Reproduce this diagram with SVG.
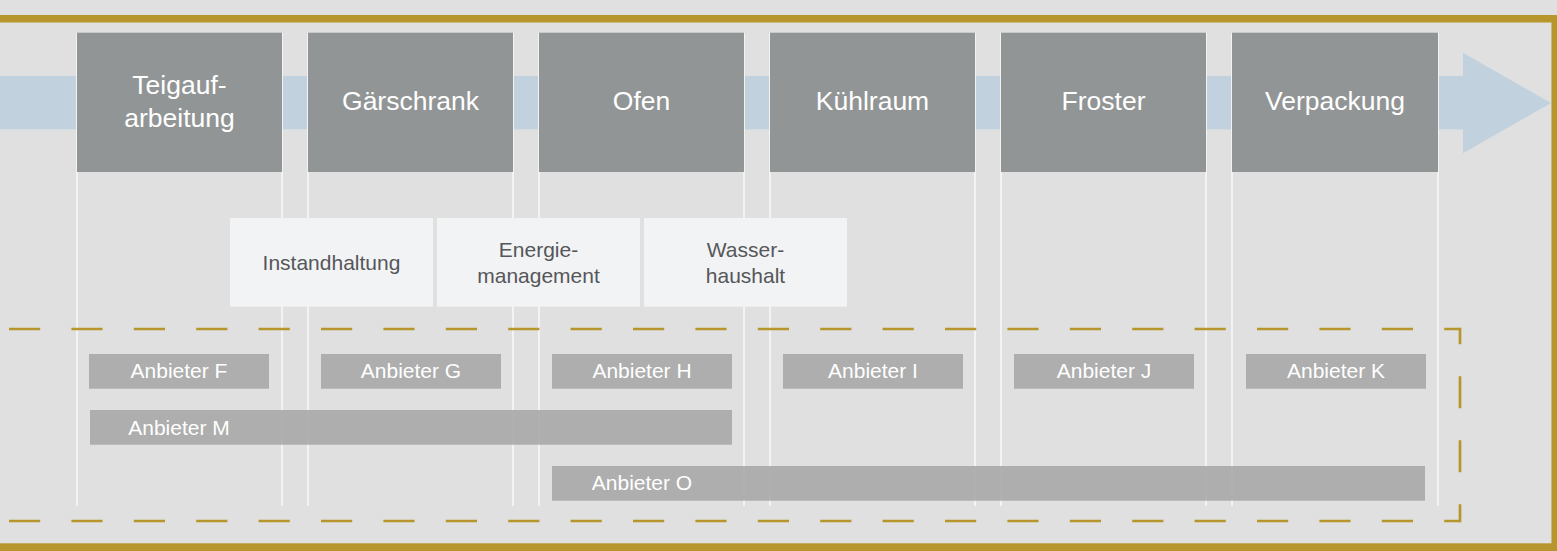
<svg xmlns="http://www.w3.org/2000/svg" width="1557" height="551" viewBox="0 0 1557 551">
  <style>
    .stage rect { fill: #929595; }
    .stage text { fill: #ffffff; font-family: "Liberation Sans", Arial, sans-serif; font-size: 26.5px; text-anchor: middle; }
    .topic rect { fill: #f2f3f5; }
    .topic text { fill: #555759; font-family: "Liberation Sans", Arial, sans-serif; font-size: 21px; text-anchor: middle; }
    .vendor rect { fill: #a5a6a5; fill-opacity: 0.88; }
    .vendor text { fill: #ffffff; font-family: "Liberation Sans", Arial, sans-serif; font-size: 21px; text-anchor: middle; }
    .guide { stroke: #f3f3f3; stroke-width: 2; }
    .dash { fill: none; stroke: #b8962e; stroke-width: 2.7; stroke-dasharray: 31.2 31.2; }
  </style>

  <!-- background and frame -->
  <rect x="0" y="0" width="1557" height="551" fill="#e0e0e0"/>
  <path d="M -10 18.7 H 1555.2 V 547" fill="none" stroke="#b8962e" stroke-width="7.5"/>
  <rect x="-10" y="543.3" width="1570" height="10" fill="#b8962e"/>

  <!-- process flow arrow -->
  <g id="flow-arrow">
    <rect x="0" y="76" width="1464" height="53.3" fill="#c1d2de"/>
    <polygon points="1463,52.7 1551,103 1463,153.3" fill="#c1d2de"/>
  </g>

  <!-- column guide lines -->
  <g id="guides">
    <line class="guide" x1="77" y1="33" x2="77" y2="506"/>
    <line class="guide" x1="282" y1="33" x2="282" y2="506"/>
    <line class="guide" x1="308" y1="33" x2="308" y2="506"/>
    <line class="guide" x1="513" y1="33" x2="513" y2="506"/>
    <line class="guide" x1="539" y1="33" x2="539" y2="506"/>
    <line class="guide" x1="744" y1="33" x2="744" y2="506"/>
    <line class="guide" x1="770" y1="33" x2="770" y2="506"/>
    <line class="guide" x1="975" y1="33" x2="975" y2="506"/>
    <line class="guide" x1="1001" y1="33" x2="1001" y2="506"/>
    <line class="guide" x1="1206" y1="33" x2="1206" y2="506"/>
    <line class="guide" x1="1232" y1="33" x2="1232" y2="506"/>
    <line class="guide" x1="1438" y1="33" x2="1438" y2="506"/>
  </g>

  <!-- process stages -->
  <g id="stage-teigaufarbeitung" class="stage">
    <rect x="77" y="32.7" width="205" height="139.3"/>
    <text x="179.5" y="94.3">Teigauf-</text>
    <text x="179.5" y="126.7">arbeitung</text>
  </g>
  <g id="stage-gaerschrank" class="stage">
    <rect x="308" y="32.7" width="205" height="139.3"/>
    <text x="410.5" y="110">Gärschrank</text>
  </g>
  <g id="stage-ofen" class="stage">
    <rect x="539" y="32.7" width="205" height="139.3"/>
    <text x="641.5" y="110">Ofen</text>
  </g>
  <g id="stage-kuehlraum" class="stage">
    <rect x="770" y="32.7" width="205" height="139.3"/>
    <text x="872.5" y="110">Kühlraum</text>
  </g>
  <g id="stage-froster" class="stage">
    <rect x="1001" y="32.7" width="205" height="139.3"/>
    <text x="1103.5" y="110">Froster</text>
  </g>
  <g id="stage-verpackung" class="stage">
    <rect x="1232" y="32.7" width="206" height="139.3"/>
    <text x="1335" y="110">Verpackung</text>
  </g>

  <!-- cross-cutting topics -->
  <g id="topic-instandhaltung" class="topic">
    <rect x="230" y="218" width="203" height="88.7"/>
    <text x="331.5" y="270">Instandhaltung</text>
  </g>
  <g id="topic-energie" class="topic">
    <rect x="437" y="218" width="203" height="88.7"/>
    <text x="538.5" y="256.7">Energie-</text>
    <text x="538.5" y="282.7">management</text>
  </g>
  <g id="topic-wasser" class="topic">
    <rect x="644" y="218" width="203" height="88.7"/>
    <text x="745.5" y="256.7">Wasser-</text>
    <text x="745.5" y="282.7">haushalt</text>
  </g>

  <!-- vendor area boundary -->
  <g id="vendor-boundary">
    <line class="dash" x1="9" y1="329" x2="1460" y2="329"/>
    <line class="dash" x1="9" y1="521" x2="1460" y2="521"/>
    <line class="dash" x1="1460" y1="327.65" x2="1460" y2="522.35" style="stroke-dasharray: 16.6 32 32 32 32 32 16.6 0"/>
  </g>

  <!-- vendors -->
  <g id="vendor-f" class="vendor">
    <rect x="89" y="354" width="180" height="34.7"/>
    <text x="179" y="377.7">Anbieter F</text>
  </g>
  <g id="vendor-g" class="vendor">
    <rect x="321" y="354" width="180" height="34.7"/>
    <text x="411" y="377.7">Anbieter G</text>
  </g>
  <g id="vendor-h" class="vendor">
    <rect x="552" y="354" width="180" height="34.7"/>
    <text x="642" y="377.7">Anbieter H</text>
  </g>
  <g id="vendor-i" class="vendor">
    <rect x="783" y="354" width="180" height="34.7"/>
    <text x="873" y="377.7">Anbieter I</text>
  </g>
  <g id="vendor-j" class="vendor">
    <rect x="1014" y="354" width="180" height="34.7"/>
    <text x="1104" y="377.7">Anbieter J</text>
  </g>
  <g id="vendor-k" class="vendor">
    <rect x="1246" y="354" width="180" height="34.7"/>
    <text x="1336" y="377.7">Anbieter K</text>
  </g>
  <g id="vendor-m" class="vendor">
    <rect x="90" y="410" width="642" height="34.7"/>
    <text x="179" y="434.7">Anbieter M</text>
  </g>
  <g id="vendor-o" class="vendor">
    <rect x="552" y="466" width="873" height="34.7"/>
    <text x="642" y="490">Anbieter O</text>
  </g>
</svg>
